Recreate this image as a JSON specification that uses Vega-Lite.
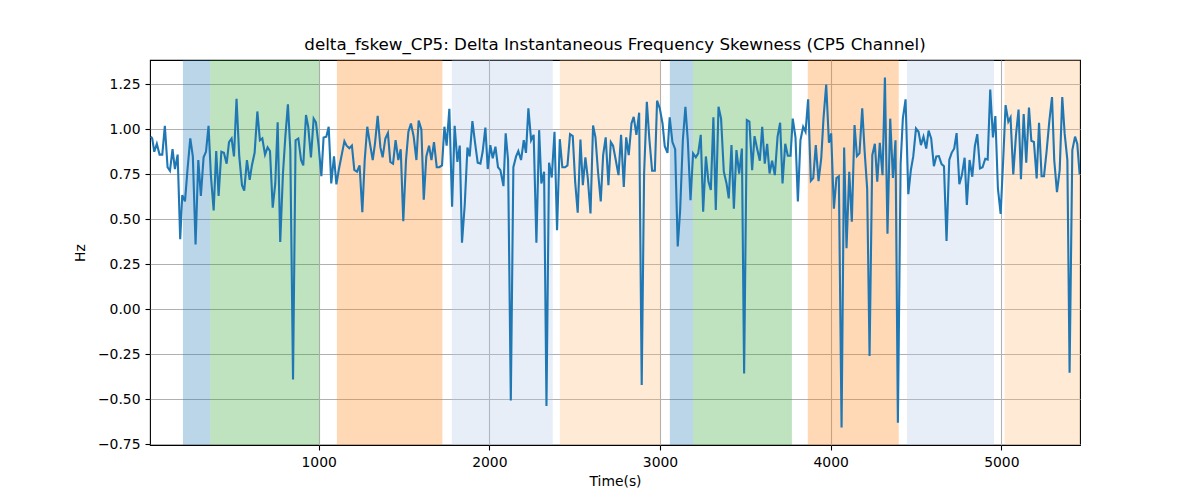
{
  "$schema": "https://vega.github.io/schema/vega-lite/v6.json",
  "width": 930,
  "height": 385,
  "autosize": {"type": "none"},
  "padding": {"left": 150, "top": 60, "right": 120, "bottom": 55},
  "title": {"text": "delta_fskew_CP5: Delta Instantaneous Frequency Skewness (CP5 Channel)", "font": "DejaVu Sans", "fontSize": 16.7, "fontWeight": "normal", "color": "#000000", "offset": 6},
  "config": {
    "view": {"stroke": "#000000", "strokeWidth": 1.1},
    "axis": {"labelFont": "DejaVu Sans", "labelFontSize": 13.9, "labelColor": "#000000", "titleFont": "DejaVu Sans", "titleFontSize": 13.9, "titleFontWeight": "normal", "titleColor": "#000000", "gridColor": "#b0b0b0", "gridWidth": 1.1, "gridOpacity": 1, "tickColor": "#000000", "tickSize": 5, "tickWidth": 1.1, "labelPadding": 5, "domain": false}
  },
  "datasets": {
    "regions": [
      {"start": 205, "end": 365, "kind": "A"},
      {"start": 365, "end": 1003, "kind": "B"},
      {"start": 1107, "end": 1725, "kind": "C"},
      {"start": 1780, "end": 2372, "kind": "D"},
      {"start": 2413, "end": 3001, "kind": "E"},
      {"start": 3058, "end": 3194, "kind": "A"},
      {"start": 3194, "end": 3773, "kind": "B"},
      {"start": 3866, "end": 4399, "kind": "C"},
      {"start": 4447, "end": 4957, "kind": "D"},
      {"start": 5019, "end": 5461, "kind": "E"}
    ],
    "series": [
      {"t":17,"v":0.96},{"t":25,"v":0.95},{"t":37,"v":0.876},{"t":52,"v":0.92},{"t":68,"v":0.86},{"t":84,"v":0.86},{"t":99,"v":1.02},{"t":115,"v":0.79},{"t":129,"v":0.77},{"t":144,"v":0.89},{"t":158,"v":0.78},{"t":174,"v":0.86},{"t":189,"v":0.39},{"t":201,"v":0.635},{"t":217,"v":0.60},{"t":232,"v":0.78},{"t":248,"v":0.95},{"t":263,"v":0.85},{"t":279,"v":0.36},{"t":295,"v":0.83},{"t":310,"v":0.63},{"t":326,"v":0.845},{"t":340,"v":0.876},{"t":355,"v":1.02},{"t":369,"v":0.74},{"t":385,"v":0.55},{"t":400,"v":0.88},{"t":414,"v":0.63},{"t":430,"v":0.876},{"t":445,"v":0.87},{"t":461,"v":0.81},{"t":475,"v":0.93},{"t":490,"v":0.95},{"t":504,"v":0.85},{"t":519,"v":1.17},{"t":535,"v":0.85},{"t":551,"v":0.69},{"t":564,"v":0.66},{"t":580,"v":0.83},{"t":596,"v":0.72},{"t":609,"v":0.80},{"t":625,"v":0.87},{"t":641,"v":1.10},{"t":656,"v":0.94},{"t":670,"v":0.95},{"t":686,"v":0.86},{"t":701,"v":0.90},{"t":715,"v":0.88},{"t":731,"v":0.565},{"t":746,"v":0.70},{"t":760,"v":1.04},{"t":775,"v":0.375},{"t":791,"v":0.755},{"t":805,"v":0.96},{"t":820,"v":1.14},{"t":834,"v":0.89},{"t":850,"v":-0.39},{"t":865,"v":0.94},{"t":881,"v":0.95},{"t":897,"v":0.83},{"t":910,"v":0.80},{"t":926,"v":1.08},{"t":939,"v":1.015},{"t":955,"v":0.845},{"t":971,"v":1.06},{"t":984,"v":1.04},{"t":1000,"v":0.91},{"t":1016,"v":0.74},{"t":1029,"v":0.955},{"t":1045,"v":0.96},{"t":1059,"v":1.015},{"t":1074,"v":0.70},{"t":1090,"v":0.85},{"t":1104,"v":0.695},{"t":1119,"v":0.78},{"t":1135,"v":0.857},{"t":1151,"v":0.935},{"t":1164,"v":0.91},{"t":1180,"v":0.895},{"t":1195,"v":0.91},{"t":1209,"v":0.775},{"t":1225,"v":0.765},{"t":1240,"v":0.80},{"t":1256,"v":0.54},{"t":1270,"v":0.83},{"t":1285,"v":1.015},{"t":1301,"v":0.92},{"t":1317,"v":0.83},{"t":1330,"v":0.92},{"t":1346,"v":1.075},{"t":1362,"v":0.90},{"t":1375,"v":0.845},{"t":1391,"v":0.95},{"t":1406,"v":0.98},{"t":1420,"v":0.82},{"t":1436,"v":0.81},{"t":1451,"v":0.94},{"t":1467,"v":0.83},{"t":1481,"v":0.89},{"t":1496,"v":0.49},{"t":1512,"v":0.83},{"t":1526,"v":0.987},{"t":1541,"v":1.033},{"t":1557,"v":0.96},{"t":1573,"v":0.83},{"t":1586,"v":1.05},{"t":1602,"v":1.0},{"t":1616,"v":0.61},{"t":1631,"v":0.85},{"t":1647,"v":0.91},{"t":1661,"v":0.83},{"t":1676,"v":0.93},{"t":1692,"v":0.79},{"t":1707,"v":0.79},{"t":1723,"v":0.80},{"t":1737,"v":1.015},{"t":1750,"v":0.91},{"t":1766,"v":1.115},{"t":1782,"v":0.57},{"t":1797,"v":1.02},{"t":1813,"v":0.82},{"t":1827,"v":0.91},{"t":1840,"v":0.37},{"t":1856,"v":0.58},{"t":1872,"v":0.90},{"t":1885,"v":0.85},{"t":1901,"v":1.046},{"t":1916,"v":0.93},{"t":1932,"v":0.815},{"t":1948,"v":0.81},{"t":1961,"v":0.876},{"t":1977,"v":1.01},{"t":1991,"v":0.78},{"t":2006,"v":0.913},{"t":2020,"v":0.84},{"t":2036,"v":0.904},{"t":2051,"v":0.79},{"t":2065,"v":0.774},{"t":2083,"v":0.685},{"t":2096,"v":0.978},{"t":2110,"v":0.83},{"t":2126,"v":-0.507},{"t":2141,"v":0.79},{"t":2157,"v":0.85},{"t":2170,"v":0.88},{"t":2186,"v":0.83},{"t":2202,"v":0.94},{"t":2215,"v":0.87},{"t":2229,"v":1.117},{"t":2245,"v":0.94},{"t":2260,"v":0.97},{"t":2276,"v":0.37},{"t":2292,"v":0.996},{"t":2305,"v":0.70},{"t":2321,"v":0.765},{"t":2335,"v":-0.537},{"t":2350,"v":0.815},{"t":2366,"v":0.733},{"t":2382,"v":0.987},{"t":2397,"v":0.44},{"t":2413,"v":0.946},{"t":2428,"v":0.79},{"t":2444,"v":0.79},{"t":2458,"v":0.80},{"t":2473,"v":0.974},{"t":2489,"v":0.963},{"t":2503,"v":0.71},{"t":2518,"v":0.537},{"t":2534,"v":0.944},{"t":2548,"v":0.69},{"t":2563,"v":0.845},{"t":2577,"v":0.73},{"t":2593,"v":0.533},{"t":2608,"v":1.022},{"t":2622,"v":0.956},{"t":2637,"v":0.765},{"t":2653,"v":0.60},{"t":2667,"v":0.857},{"t":2682,"v":0.956},{"t":2698,"v":0.69},{"t":2712,"v":0.93},{"t":2725,"v":0.91},{"t":2739,"v":0.84},{"t":2757,"v":0.746},{"t":2772,"v":0.97},{"t":2788,"v":0.68},{"t":2802,"v":0.956},{"t":2817,"v":0.857},{"t":2833,"v":1.033},{"t":2846,"v":1.07},{"t":2862,"v":0.97},{"t":2878,"v":1.093},{"t":2893,"v":-0.42},{"t":2907,"v":0.755},{"t":2923,"v":1.154},{"t":2938,"v":0.944},{"t":2954,"v":0.77},{"t":2970,"v":0.77},{"t":2983,"v":1.16},{"t":2999,"v":1.117},{"t":3015,"v":1.033},{"t":3028,"v":0.907},{"t":3044,"v":0.87},{"t":3057,"v":1.067},{"t":3073,"v":0.93},{"t":3089,"v":0.89},{"t":3104,"v":0.35},{"t":3118,"v":0.548},{"t":3134,"v":0.94},{"t":3149,"v":1.126},{"t":3163,"v":0.94},{"t":3179,"v":0.607},{"t":3194,"v":0.867},{"t":3210,"v":0.845},{"t":3224,"v":0.867},{"t":3239,"v":0.97},{"t":3253,"v":0.543},{"t":3269,"v":0.85},{"t":3284,"v":0.71},{"t":3298,"v":0.663},{"t":3313,"v":1.067},{"t":3327,"v":0.552},{"t":3343,"v":1.126},{"t":3358,"v":1.06},{"t":3374,"v":0.765},{"t":3390,"v":0.70},{"t":3403,"v":0.617},{"t":3419,"v":0.913},{"t":3433,"v":0.56},{"t":3448,"v":0.885},{"t":3464,"v":0.755},{"t":3480,"v":0.894},{"t":3493,"v":-0.356},{"t":3509,"v":1.052},{"t":3524,"v":1.043},{"t":3540,"v":0.774},{"t":3554,"v":0.963},{"t":3569,"v":0.894},{"t":3585,"v":0.826},{"t":3599,"v":1.015},{"t":3614,"v":0.81},{"t":3628,"v":0.92},{"t":3642,"v":0.755},{"t":3657,"v":0.826},{"t":3673,"v":0.746},{"t":3689,"v":0.96},{"t":3704,"v":1.037},{"t":3718,"v":0.70},{"t":3734,"v":0.92},{"t":3749,"v":0.854},{"t":3765,"v":0.854},{"t":3778,"v":1.06},{"t":3794,"v":0.956},{"t":3808,"v":0.60},{"t":3823,"v":0.94},{"t":3839,"v":1.015},{"t":3853,"v":0.987},{"t":3868,"v":1.167},{"t":3884,"v":0.715},{"t":3898,"v":0.73},{"t":3913,"v":0.913},{"t":3929,"v":0.713},{"t":3945,"v":0.84},{"t":3958,"v":1.06},{"t":3974,"v":1.25},{"t":3990,"v":0.926},{"t":4003,"v":0.978},{"t":4019,"v":0.56},{"t":4034,"v":0.73},{"t":4048,"v":0.74},{"t":4064,"v":-0.657},{"t":4079,"v":0.90},{"t":4093,"v":0.34},{"t":4109,"v":0.765},{"t":4124,"v":0.487},{"t":4140,"v":1.024},{"t":4154,"v":0.852},{"t":4169,"v":0.867},{"t":4185,"v":1.117},{"t":4199,"v":0.88},{"t":4214,"v":0.67},{"t":4228,"v":-0.259},{"t":4244,"v":0.857},{"t":4259,"v":0.92},{"t":4273,"v":0.71},{"t":4288,"v":0.926},{"t":4304,"v":0.746},{"t":4318,"v":1.289},{"t":4333,"v":0.42},{"t":4349,"v":1.06},{"t":4365,"v":0.73},{"t":4380,"v":0.94},{"t":4394,"v":-0.63},{"t":4410,"v":0.81},{"t":4423,"v":1.06},{"t":4439,"v":1.167},{"t":4455,"v":0.64},{"t":4470,"v":0.774},{"t":4484,"v":0.85},{"t":4500,"v":1.005},{"t":4515,"v":0.987},{"t":4529,"v":0.913},{"t":4544,"v":0.96},{"t":4560,"v":0.894},{"t":4574,"v":0.993},{"t":4589,"v":0.95},{"t":4605,"v":0.796},{"t":4619,"v":0.85},{"t":4634,"v":0.852},{"t":4650,"v":0.807},{"t":4664,"v":0.796},{"t":4679,"v":0.38},{"t":4695,"v":0.83},{"t":4709,"v":0.87},{"t":4724,"v":0.894},{"t":4738,"v":0.98},{"t":4754,"v":0.696},{"t":4769,"v":0.746},{"t":4785,"v":0.843},{"t":4798,"v":0.58},{"t":4814,"v":0.83},{"t":4830,"v":0.737},{"t":4845,"v":0.907},{"t":4859,"v":0.974},{"t":4875,"v":0.783},{"t":4890,"v":0.79},{"t":4906,"v":0.837},{"t":4920,"v":0.833},{"t":4935,"v":1.222},{"t":4951,"v":0.956},{"t":4965,"v":1.074},{"t":4980,"v":0.672},{"t":4996,"v":0.53},{"t":5010,"v":0.81},{"t":5025,"v":1.135},{"t":5041,"v":1.043},{"t":5054,"v":1.067},{"t":5070,"v":0.75},{"t":5086,"v":0.97},{"t":5101,"v":1.11},{"t":5115,"v":0.724},{"t":5131,"v":1.085},{"t":5146,"v":0.815},{"t":5162,"v":1.122},{"t":5176,"v":0.937},{"t":5191,"v":0.93},{"t":5207,"v":0.728},{"t":5221,"v":1.037},{"t":5236,"v":0.74},{"t":5250,"v":0.74},{"t":5265,"v":0.876},{"t":5281,"v":1.043},{"t":5297,"v":1.18},{"t":5310,"v":0.83},{"t":5326,"v":0.652},{"t":5342,"v":0.774},{"t":5357,"v":1.18},{"t":5371,"v":0.978},{"t":5387,"v":0.83},{"t":5400,"v":-0.352},{"t":5416,"v":0.885},{"t":5432,"v":0.96},{"t":5445,"v":0.92},{"t":5459,"v":0.75}
    ]
  },
  "layer": [
    {
      "data": {"name": "regions"},
      "mark": {"type": "rect", "opacity": 0.3, "clip": true},
      "encoding": {
        "x": {"field": "start", "type": "quantitative", "scale": {"domain": [12, 5461], "nice": false, "zero": false}, "axis": {"values": [1000, 2000, 3000, 4000, 5000], "format": "d", "title": "Time(s)", "titlePadding": 6, "grid": true}},
        "x2": {"field": "end"},
        "color": {"field": "kind", "type": "nominal", "scale": {"domain": ["A", "B", "C", "D", "E"], "range": ["#1f77b4", "#2ca02c", "#ff7f0e", "#aec7e8", "#ffbb78"]}, "legend": null}
      }
    },
    {
      "data": {"name": "series"},
      "mark": {"type": "line", "color": "#1f77b4", "strokeWidth": 2.1, "clip": true},
      "encoding": {
        "x": {"field": "t", "type": "quantitative"},
        "y": {"field": "v", "type": "quantitative", "scale": {"domain": [-0.754, 1.386], "nice": false, "zero": false}, "axis": {"values": [-0.75, -0.5, -0.25, 0, 0.25, 0.5, 0.75, 1.0, 1.25], "format": ".2f", "title": "Hz", "titlePadding": 10, "grid": true}}
      }
    }
  ]
}
